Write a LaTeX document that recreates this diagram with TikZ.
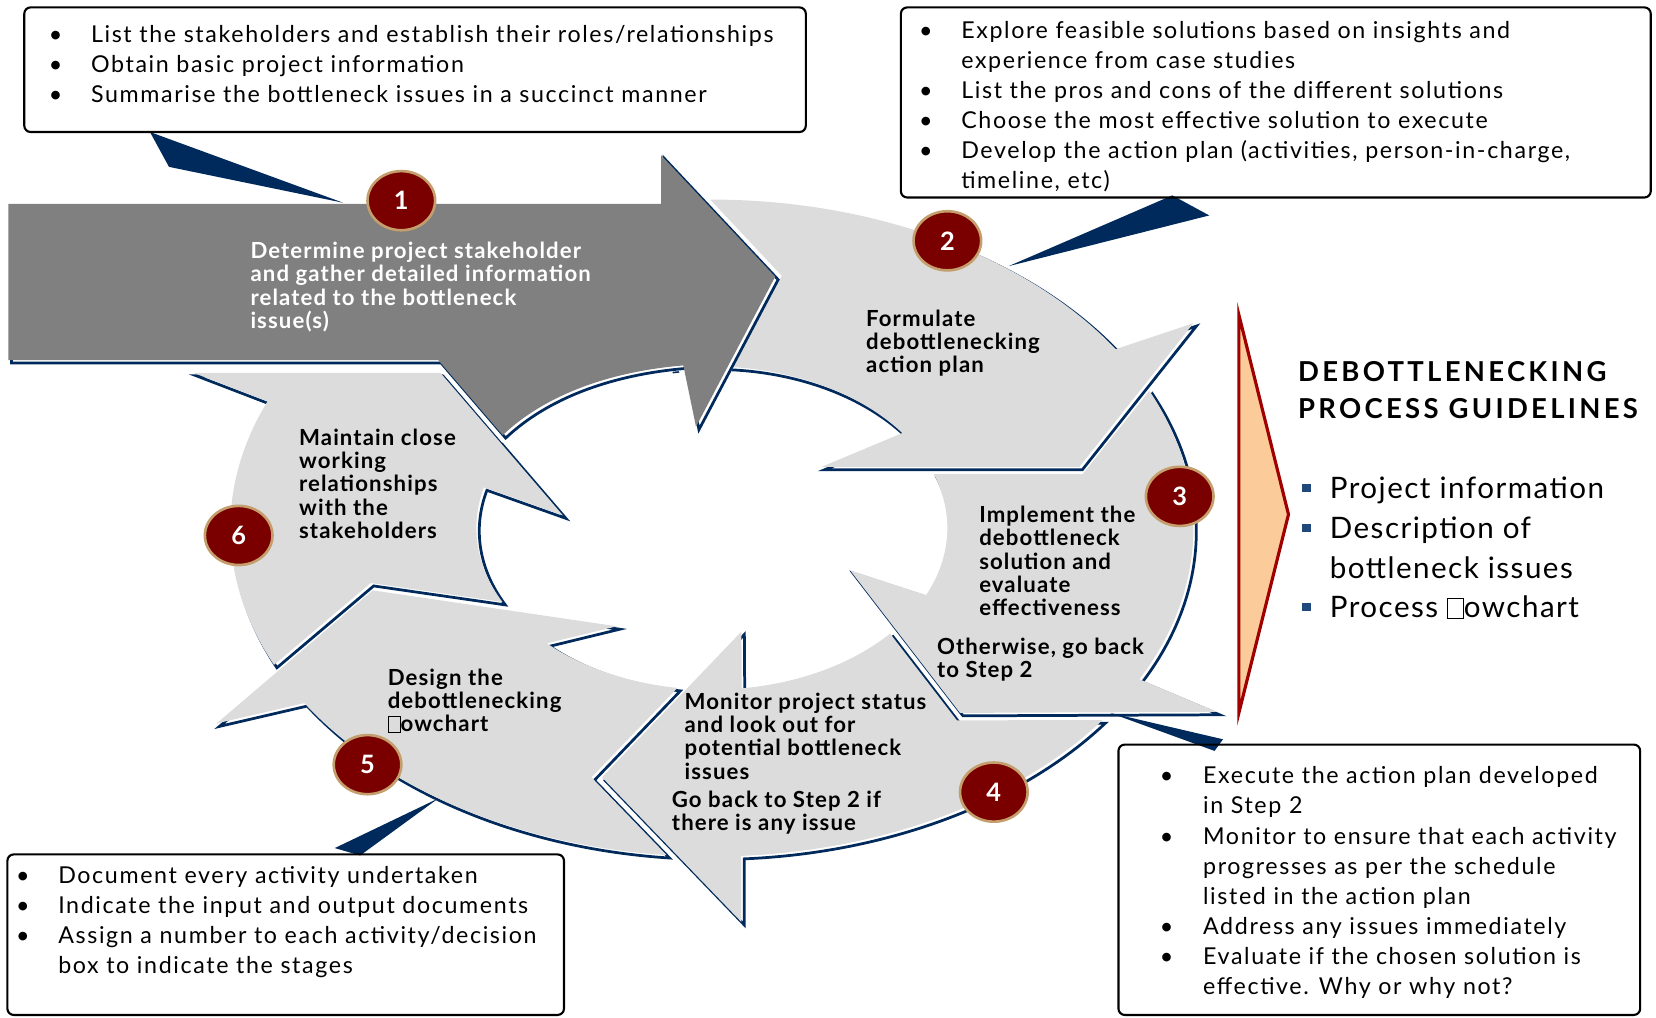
\documentclass[tikz,border=0pt]{standalone}
\usepackage{fontspec}
\setmainfont{Lato}
\newfontfamily\boxfont[LetterSpace=7]{Lato}
\newfontfamily\stepfont[LetterSpace=5]{Lato}
\newfontfamily\titlefont[LetterSpace=12]{Lato}
\newfontfamily\keyfont[LetterSpace=5]{Lato}
\usetikzlibrary{shapes.geometric}
\usetikzlibrary{positioning}
\usetikzlibrary{calc}

\definecolor{navy}{RGB}{0,42,92}
\definecolor{ringgray}{RGB}{220,220,220}
\definecolor{leadgray}{RGB}{128,128,128}
\definecolor{badgered}{RGB}{122,0,0}
\definecolor{badgerim}{RGB}{196,158,108}
\definecolor{peach}{RGB}{251,203,154}
\definecolor{chevred}{RGB}{160,0,0}
\definecolor{sqblue}{RGB}{31,73,125}

% empty box where the fl ligature is missing
\newcommand{\flbox}{{\setlength{\fboxsep}{0pt}\setlength{\fboxrule}{0.6pt}\fbox{\rule{0pt}{0.66em}\hspace{0.52em}}}}
\newcommand{\sqbullet}{\textcolor{sqblue}{\rule[0.22em]{8pt}{8pt}}}

\tikzset{
    navyshade/.style = {preaction={draw=navy, line width=2.6pt, transform canvas={shift={(2.8pt,-2.8pt)}}}},
    ringarrow/.style = {fill=ringgray, navyshade},
    leadarrow/.style = {fill=leadgray, preaction={draw=white, line width=10pt}, navyshade},
    badge/.style = {ellipse, draw=badgerim, line width=2.5pt, fill=badgered, minimum width=64pt,
        minimum height=56pt, inner sep=0pt, text=white, font=\fontsize{24}{24}\selectfont\bfseries},
    infobox/.style = {draw=black, line width=2pt, rounded corners=6pt, anchor=north west, inner sep=0pt},
    infotext/.style = {anchor=north west, inner sep=0pt, align=left, font=\boxfont\fontsize{22}{28.5}\selectfont},
    steptext/.style = {anchor=north west, inner sep=0pt, align=left, font=\stepfont\fontsize{21}{22}\selectfont\bfseries},
    callout/.style = {fill=navy},
    outarc/.style = {x radius=456, y radius=311},
    inarc/.style = {x radius=223, y radius=153}
}

\begin{document}
\begin{tikzpicture}[x=1pt, y=-1pt]
  \useasboundingbox (0,0) rectangle (1568,963);
  \coordinate (O) at (674,500);

  % ring arrows: outer arc, head, inner arc, notched tail
  \path[ringarrow] ($(O)+(155.4:456 and 311)$) arc[outarc, start angle=155.4, end angle=202.7]
      -- (183,353) -- (417,353) -- (533,488)
      -- ($(O)+(194.6:223 and 153)$) arc[inarc, start angle=194.6, end angle=152.8] -- (351,552) -- cycle;
  \path[ringarrow] ($(O)+(95.4:456 and 311)$) arc[outarc, start angle=95.4, end angle=147.8]
      -- (205,685) -- (353,559) -- (584,593)
      -- ($(O)+(134.5:223 and 153)$) arc[inarc, start angle=134.5, end angle=98.4] -- (560,736) -- cycle;
  \path[ringarrow] ($(O)+(35.8:456 and 311)$) arc[outarc, start angle=35.8, end angle=86.5]
      -- (702,873) -- (570,736) -- (702,598)
      -- ($(O)+(82.7:223 and 153)$) arc[inarc, start angle=82.7, end angle=40.8] -- (906,682) -- cycle;
  \path[ringarrow] ($(O)+(-24.7:456 and 311)$) arc[outarc, start angle=-24.7, end angle=27.4]
      -- (1152,674) -- (909,675) -- (805,540)
      -- ($(O)+(24.5:223 and 153)$) arc[inarc, start angle=24.5, end angle=-19.5] -- (1025,449) -- cycle;
  \path[ringarrow] ($(O)+(-100:456 and 311)$) arc[outarc, start angle=-100, end angle=-33]
      -- (1130,306) -- (1022,442) -- (778,442)
      -- ($(O)+(-36:223 and 153)$) arc[inarc, start angle=-36, end angle=-100] -- cycle;

  % leading arrow
  \path[leadarrow] (8,193) -- (626,193) -- (626,147) -- (734,262) -- (659,404) -- (647,346)
      .. controls (575,352) and (515,375) .. (476,412) -- (415,341) -- (8,341) -- cycle;

  % pointers from the boxes
  \fill[callout] (142,125) -- (160,158) -- (325,192) -- cycle;
  \fill[callout] (1110,185) -- (1145,204) -- (955,252) -- cycle;
  \fill[callout] (1051,675) -- (1158,700) -- (1150,711) -- cycle;
  \fill[callout] (317,803) -- (341,810) -- (415,756) -- cycle;

  % step numbers
  \node[badge] (n1) at (380,190) {1};
  \node[badge] (n2) at (897,228) {2};
  \node[badge] (n3) at (1117,470) {3};
  \node[badge] (n4) at (941,750) {4};
  \node[badge] (n5) at (348,724) {5};
  \node[badge] (n6) at (226,507) {6};

  % step texts
  \node[steptext, text=white] (s1) at (237,229) {Determine project stakeholder\\and gather detailed information\\related to the bottleneck\\issue(s)};
  \node[steptext] (s2) at (820,293) {Formulate\\debottlenecking\\action plan};
  \node[steptext] (s3) at (927,479) {Implement the\\debottleneck\\solution and\\evaluate\\effectiveness};
  \node[steptext] (s3b) at (887,604) {Otherwise, go back\\to Step 2};
  \node[steptext] (s4) at (648,656) {Monitor project status\\and look out for\\potential bottleneck\\issues};
  \node[steptext] (s4b) at (636,749) {Go back to Step 2 if\\there is any issue};
  \node[steptext] (s5) at (367,633) {Design the\\debottlenecking\\\flbox owchart};
  \node[steptext] (s6) at (283,406) {Maintain close\\working\\relationships\\with the\\stakeholders};

  % guideline boxes
  \node[infobox, minimum width=740, minimum height=118] (box1) at (22,6) {};
  \node[infotext] (t1) at ([shift={(24,14)}]box1.north west) {\begin{tabular}{@{}p{40pt}@{}l@{}}
    \textbullet & List the stakeholders and establish their roles/relationships\\
    \textbullet & Obtain basic project information\\
    \textbullet & Summarise the bottleneck issues in a succinct manner
  \end{tabular}};

  \node[infobox, minimum width=710, minimum height=180] (box2) at (852,6) {};
  \node[infotext] (t2) at ([shift={(18,10)}]box2.north west) {\begin{tabular}{@{}p{40pt}@{}l@{}}
    \textbullet & Explore feasible solutions based on insights and\\
                & experience from case studies\\
    \textbullet & List the pros and cons of the different solutions\\
    \textbullet & Choose the most effective solution to execute\\
    \textbullet & Develop the action plan (activities, person-in-charge,\\
                & timeline, etc)
  \end{tabular}};

  \node[infobox, minimum width=494, minimum height=256] (box4) at (1058,704) {};
  \node[infotext] (t4) at ([shift={(40,18)}]box4.north west) {\begin{tabular}{@{}p{41pt}@{}l@{}}
    \textbullet & Execute the action plan developed\\
                & in Step 2\\
    \textbullet & Monitor to ensure that each activity\\
                & progresses as per the schedule\\
                & listed in the action plan\\
    \textbullet & Address any issues immediately\\
    \textbullet & Evaluate if the chosen solution is\\
                & effective. Why or why not?
  \end{tabular}};

  \node[infobox, minimum width=527, minimum height=152] (box5) at (6,808) {};
  \node[infotext] (t5) at ([shift={(9,8)}]box5.north west) {\begin{tabular}{@{}p{40pt}@{}l@{}}
    \textbullet & Document every activity undertaken\\
    \textbullet & Indicate the input and output documents\\
    \textbullet & Assign a number to each activity/decision\\
                & box to indicate the stages
  \end{tabular}};

  % summary chevron and key outputs
  \draw[draw=chevred, line width=3, fill=peach] (1173,298) -- (1220,487) -- (1173,675) -- cycle;
  \node[anchor=north west, inner sep=0pt, align=left, font=\titlefont\fontsize{26}{35}\selectfont\bfseries]
      (title) at (1229,342) {DEBOTTLENECKING\\PROCESS GUIDELINES};
  \node[anchor=north west, inner sep=0pt, font=\keyfont\fontsize{28}{37.5}\selectfont] (keys) at (1233,446)
      {\begin{tabular}{@{}p{26pt}@{}l@{}}
    \sqbullet & Project information\\
    \sqbullet & Description of\\
              & bottleneck issues\\
    \sqbullet & Process \flbox owchart
  \end{tabular}};
\end{tikzpicture}
\end{document}
